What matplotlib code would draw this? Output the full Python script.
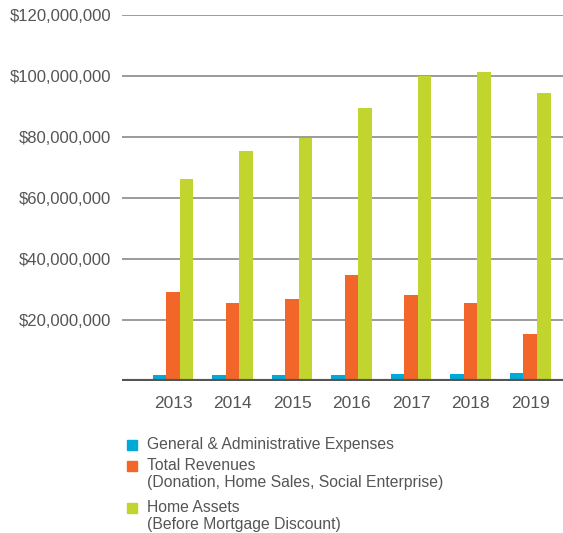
import matplotlib.pyplot as plt
from matplotlib.patches import Rectangle
from matplotlib.ticker import FuncFormatter
import numpy as np

plt.rcParams['font.family'] = ['Liberation Sans', 'DejaVu Sans']

years = ['2013', '2014', '2015', '2016', '2017', '2018', '2019']
admin_expenses = [2.0e6, 2.0e6, 2.0e6, 2.0e6, 2.3e6, 2.3e6, 2.6e6]
total_revenues = [29.2e6, 25.6e6, 26.9e6, 34.8e6, 28.2e6, 25.6e6, 15.4e6]
home_assets = [66.2e6, 75.4e6, 79.7e6, 89.5e6, 100.0e6, 101.3e6, 94.4e6]

labels = ['General & Administrative Expenses',
          'Total Revenues\n(Donation, Home Sales, Social Enterprise)',
          'Home Assets\n(Before Mortgage Discount)']
colors = ['#00A9D6', '#F26629', '#C2D52F']
text_color = '#555555'

fig = plt.figure(figsize=(5.63, 5.33), dpi=100)
ax = fig.add_axes([0.2167, 0.2852, 0.7833, 0.6867])

x = np.arange(len(years))
w = 0.227
series = [admin_expenses, total_revenues, home_assets]
for i, (vals, c) in enumerate(zip(series, colors)):
    ax.bar(x + (i - 1) * w, vals, width=w, color=c, zorder=3)

ax.set_ylim(0, 120e6)
ax.set_xlim(-0.857, 6.55)
ax.set_yticks(np.arange(20e6, 120e6 + 1, 20e6))
ax.yaxis.set_major_formatter(FuncFormatter(lambda v, p: '${:,.0f}'.format(v)))
ax.grid(axis='y', color='#8a8a8a', linewidth=1.2, zorder=0)
ax.axhline(0, color='#555555', linewidth=3, zorder=4)
for s in ax.spines.values():
    s.set_visible(False)
ax.set_xticks(x)
ax.set_xticklabels(years)
ax.tick_params(axis='both', length=0, labelcolor=text_color)
ax.tick_params(axis='y', pad=8, labelsize=12)
ax.tick_params(axis='x', pad=11, labelsize=12.5)

# legend drawn by hand so the swatch sits on the first line
legend_y = [445, 466, 508]
for lab, c, yp in zip(labels, colors, legend_y):
    fy = 1 - yp / 533
    fig.add_artist(Rectangle((127 / 563, fy - 5 / 533), 10 / 563, 10 / 533,
                             transform=fig.transFigure, color=c))
    fig.text(147 / 563, fy + 8 / 533, lab, fontsize=11.3, color=text_color,
             va='top', ha='left', linespacing=1.2)

fig.savefig('out.png', dpi=100)
